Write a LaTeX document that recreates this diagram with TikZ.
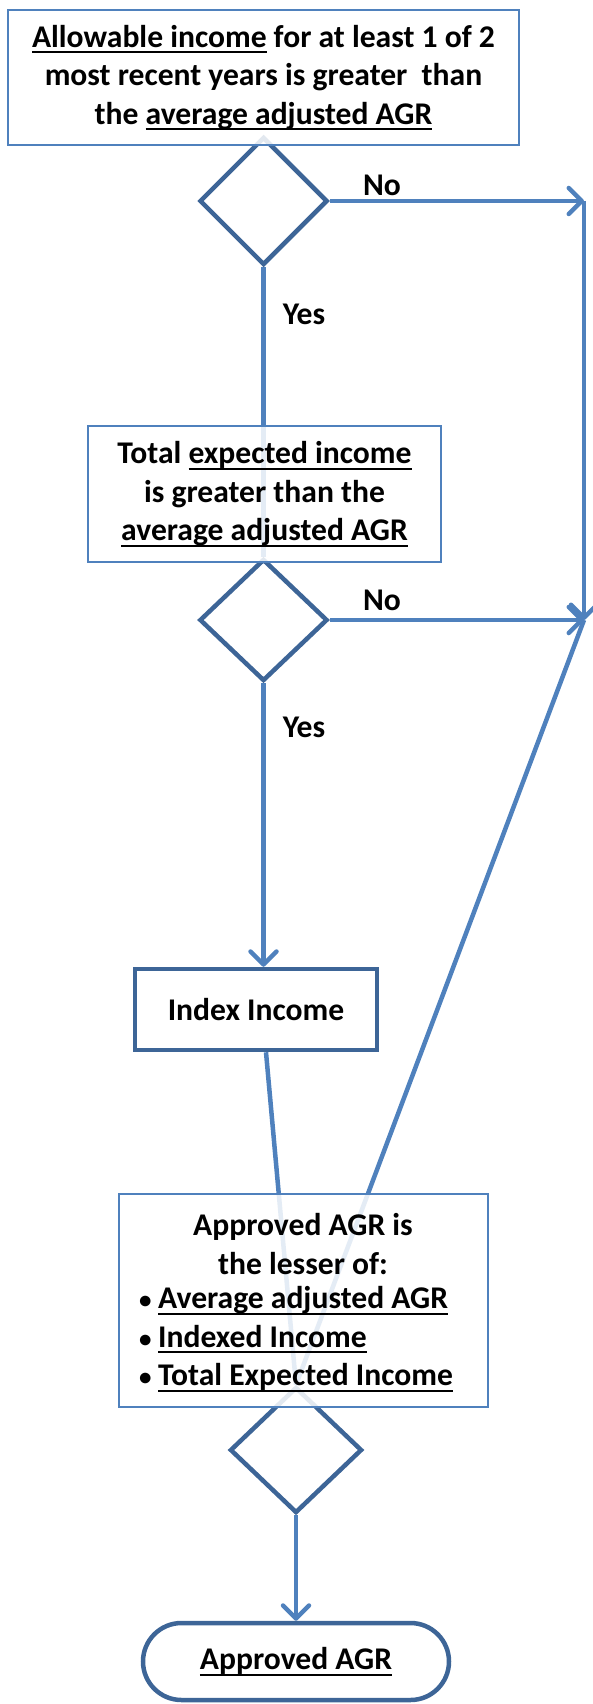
\documentclass[tikz,border=0pt]{standalone}
\usepackage{fontspec}
\setmainfont{Carlito}
\usetikzlibrary{shapes.geometric,arrows.meta,calc,backgrounds}
\definecolor{lineblue}{HTML}{4F81BD}
\definecolor{darkblue}{HTML}{3D6597}
\newsavebox{\myulbox}
\newcommand{\myul}[1]{\sbox{\myulbox}{#1}\rlap{\rule[-6pt]{\wd\myulbox}{2pt}}\usebox{\myulbox}}
\newcommand{\mybul}{\makebox[21pt][l]{\hspace{2pt}{\fontsize{25}{25}\selectfont •}}}
\begin{document}
\begin{tikzpicture}[x=1pt,y=-1pt,
  txt/.style={font=\fontsize{31.6}{38.5}\selectfont\bfseries, text=black, align=center, inner sep=0pt},
  thinbox/.style={txt, draw=lineblue, line width=2.6pt, fill=white, fill opacity=0.85, text opacity=1},
  thickbox/.style={txt, draw=darkblue, line width=4.5pt, fill=white},
  decision/.style={diamond, draw=darkblue, line width=4.5pt, inner sep=0pt, aspect=1},
  conn/.style={draw=lineblue, line width=4.5pt},
  arr/.style={conn, -{Straight Barb[length=13pt,width=26pt,line cap=round,line join=round]}},
]
\useasboundingbox (0,0) rectangle (593,1704);

% decisions (drawn first so boxes cover their tops)
\node[decision, minimum width=128pt, minimum height=128pt] (d1) at (263.5,201) {};
\node[decision, minimum width=128pt, minimum height=122pt] (d2) at (263.5,620) {};
\node[decision, minimum width=132pt, minimum height=126pt] (d3) at (296,1450) {};

% boxes
\node[thinbox, minimum width=511pt, minimum height=135pt] (top) at (263.5,77.5)
  {\myul{Allowable income} for at least 1 of 2\\most recent years is greater\ \ than\\the \myul{average adjusted AGR}};
\node[thinbox, minimum width=353pt, minimum height=136pt] (b2) at (264.5,494)
  {Total \myul{expected income}\\is greater than the\\\myul{average adjusted AGR}};
\node[thickbox, minimum width=242pt, minimum height=81pt] (idx) at (256,1009.5) {Index Income};
\node[thinbox, minimum width=369pt, minimum height=213pt] (b4) at (303.5,1300.5) {};
\node[txt] (b4title) at (303,1244) {Approved AGR is\\the lesser of:};
\node[txt, align=left, anchor=west] (b4list) at (137,1339)
  {\mybul\myul{Average adjusted AGR}\\
   \mybul\myul{Indexed Income}\\
   \mybul\myul{Total Expected Income}};
\node[thickbox, minimum width=306pt, minimum height=77pt, rounded corners=38.5pt] (term) at (296,1661.5)
  {\myul{Approved AGR}};

% labels
\node[txt] (no1) at (382,185) {No};
\node[txt] (no2) at (382,600) {No};
\node[txt] (yes1) at (304,314) {Yes};
\node[txt] (yes2) at (304,727) {Yes};

\coordinate (r1) at (584,201);
\coordinate (r2) at (584,620);

\begin{scope}[on background layer]
\draw[arr] (d1.east) -- (r1);
\draw[arr] (r1) -- (r2);
\draw[arr] (d2.east) -- (r2);
\draw[conn] (d1.south) -- (d2.north);
\draw[arr] (d2.south) -- (d2.south |- idx.north);
\draw[conn] ($(idx.south)+(10,0)$) -- (d3.north);
\draw[conn] (r2) -- (d3.north);
\draw[arr] (d3.south) -- (term.north);
\end{scope}
\end{tikzpicture}
\end{document}
